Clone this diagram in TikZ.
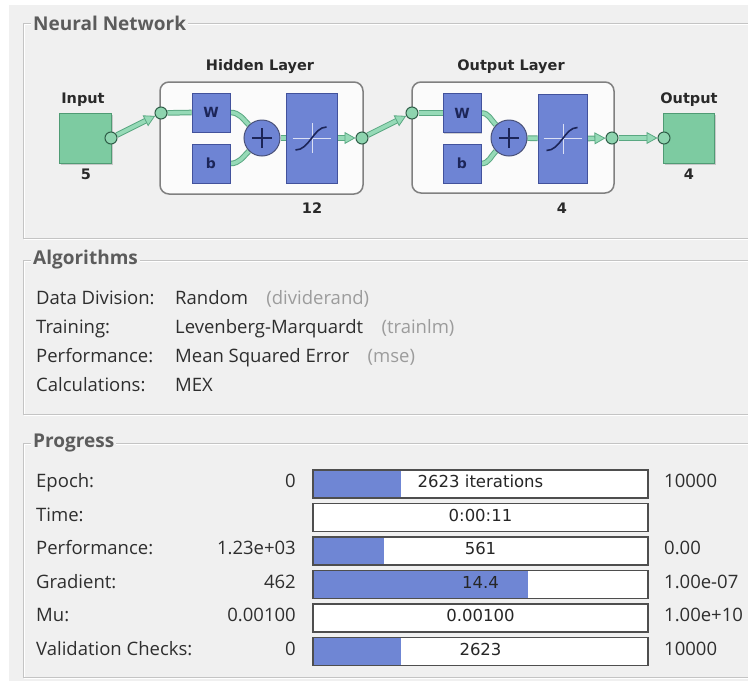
\documentclass[tikz,border=0pt]{standalone}
\usepackage{fontspec}
\setmainfont{Open Sans}
\newfontfamily\djv{DejaVu Sans}
\usetikzlibrary{arrows.meta,shadows,calc}
\definecolor{bgc}{HTML}{F0F0F0}
\definecolor{framec}{HTML}{C4C4C4}
\definecolor{titlec}{HTML}{5C5C5C}
\definecolor{textc}{HTML}{2E2E2E}
\definecolor{parenc}{HTML}{9C9C9C}
\definecolor{gfill}{HTML}{7DCBA1}
\definecolor{gedge}{HTML}{4F9B74}
\definecolor{conngreen}{HTML}{96DAB7}
\definecolor{connedge}{HTML}{5AA882}
\definecolor{circfill}{HTML}{8ED4AF}
\definecolor{circedge}{HTML}{2F5E48}
\definecolor{bfill}{HTML}{6E84D4}
\definecolor{bedge}{HTML}{42529C}
\definecolor{navy}{HTML}{1C2558}
\definecolor{barblue}{HTML}{6F86D4}
\definecolor{baredge}{HTML}{4E4E4E}
\definecolor{lboxedge}{HTML}{808080}
\pgfdeclarelayer{back}
\pgfdeclarelayer{mid}
\pgfsetlayers{back,mid,main}
\tikzset{
  frameline/.style={draw=framec, line width=0.9pt},
  ttl/.style={anchor=west, fill=bgc, inner xsep=2pt, inner ysep=0pt, text=titlec,
    font=\fontsize{19}{22}\selectfont\bfseries},
  txt/.style={anchor=west, inner sep=0pt, text height=0.72em, text depth=0pt, text=textc,
    font=\fontsize{18.5}{22}\selectfont},
  ptxt/.style={txt, text=parenc},
  rtxt/.style={txt, anchor=east},
  dlabel/.style={inner sep=0pt, text height=0.73em, text depth=0pt, text=textc!90!black,
    font=\djv\fontsize{14.5}{17}\selectfont\bfseries},
  lbox/.style={draw=lboxedge, line width=1.5pt, rounded corners=9pt, fill=white!97!gray},
  gblock/.style={draw=gedge, line width=0.9pt, fill=gfill,
    drop shadow={shadow xshift=1.5pt, shadow yshift=-1.5pt, opacity=0.35}},
  bblock/.style={draw=bedge, line width=0.9pt, fill=bfill,
    drop shadow={shadow xshift=1.2pt, shadow yshift=-1.2pt, opacity=0.35},
    text=navy, font=\djv\fontsize{14}{16}\selectfont\bfseries, inner sep=0pt},
  sumnode/.style={circle, draw=navy!80, line width=1pt, fill=bfill, minimum size=36pt, inner sep=0pt},
  circ/.style={circle, draw=circedge, line width=1pt, fill=circfill, minimum size=12pt, inner sep=0pt},
  conn/.style={draw=conngreen, line width=3.6pt, preaction={draw=connedge, line width=5.6pt}},
  conna/.style={draw=conngreen, line width=3.6pt,
    preaction={draw=connedge, line width=5.6pt, -, shorten >=9pt},
    -{Triangle[length=11pt,width=12pt,line width=0.8pt,color=connedge,fill=conngreen]}},
  barbox/.style={draw=baredge, line width=1.5pt, fill=white, minimum width=335pt, minimum height=28pt, inner sep=0pt},
  bartxt/.style={inner sep=0pt, text height=0.73em, text depth=0pt, text=black!85,
    font=\djv\fontsize{16.5}{19}\selectfont},
}
\begin{document}
\begin{tikzpicture}[x=1pt,y=-1pt]
\useasboundingbox (0,0) rectangle (748,681);
\clip (0,0) rectangle (748,681);
\begin{pgfonlayer}{back}
\fill[white] (0,0) rectangle (748,681);
\fill[bgc] (9,5) rectangle (748,681);
% frames
\foreach \ya/\yb in {23/238, 260/414, 443/677}{
  \draw[white, line width=0.9pt] (24,\ya+1) rectangle (800,\yb+1);
  \draw[frameline] (23,\ya) rectangle (800,\yb);
}
\node[lbox, minimum width=203pt, minimum height=112pt] (hbox) at (261.5,138) {};
\node[lbox, minimum width=202pt, minimum height=111pt] (obox) at (513,137.5) {};
\end{pgfonlayer}

% titles
\node[ttl] (t1) at (31,23) {Neural Network};
\node[ttl] (t2) at (31,260) {Algorithms};
\node[ttl] (t3) at (31,443) {Progress};

% ---------- network ----------
\node[gblock, minimum width=52pt, minimum height=50pt] (inp) at (85,138) {};
\node[gblock, minimum width=51pt, minimum height=50pt] (outp) at (688.5,138) {};
\node[dlabel] (linp) at (83,100) {Input};
\node[dlabel] (n5) at (86,176) {5};
\node[dlabel] (lout) at (689,100) {Output};
\node[dlabel] (n4b) at (689,176) {4};
\node[dlabel] (lh) at (260,67) {Hidden Layer};
\node[dlabel] (n12) at (312,210) {12};
\node[dlabel] (lo) at (511,67) {Output Layer};
\node[dlabel] (n4a) at (562,210) {4};

% hidden layer blocks
\node[bblock, minimum width=38pt, minimum height=39pt] (hW) at (211,112.5) {W};
\node[bblock, minimum width=38pt, minimum height=39pt] (hb) at (211,163.5) {b};
\node[sumnode] (hplus) at (262,138) {};
\node[bblock, minimum width=51pt, minimum height=90pt] (hT) at (311.5,138) {};
% output layer blocks
\node[bblock, minimum width=38pt, minimum height=39pt] (oW) at (462,113) {W};
\node[bblock, minimum width=38pt, minimum height=39pt] (ob) at (462,163.5) {b};
\node[sumnode] (oplus) at (509,138) {};
\node[bblock, minimum width=49pt, minimum height=89pt] (oT) at (562.5,138.5) {};

% plus signs and sigmoids
\foreach \p in {hplus,oplus}{
  \draw[navy, line width=2pt] ($(\p.center)+(-10,0)$) -- ($(\p.center)+(10,0)$);
  \draw[navy, line width=2pt] ($(\p.center)+(0,-10)$) -- ($(\p.center)+(0,10)$);
}
\foreach \t in {hT,oT}{
  \draw[white!75!bfill, line width=0.8pt] ($(\t.center)+(-19,0)$) -- ($(\t.center)+(19,0)$);
  \draw[white!75!bfill, line width=0.8pt] ($(\t.center)+(1,-15)$) -- ($(\t.center)+(1,15)$);
  \draw[navy, line width=1.6pt] ($(\t.center)+(-16,12)$) .. controls ($(\t.center)+(-2,12)$) and ($(\t.center)+(2,-11)$) .. ($(\t.center)+(15,-11)$);
}

% connector circles
\node[circ] (inout) at (111,138) {};
\node[circ] (hin) at (161,113) {};
\node[circ] (hout) at (362,138) {};
\node[circ] (oin) at (412,113) {};
\node[circ] (oout) at (612,138) {};
\node[circ] (outin) at (664,138) {};

\begin{pgfonlayer}{mid}
\draw[conna] (inout) -- (hin);
\draw[conn] (hin) -- (hW.west);
\draw[conn] (hW.east) to[out=0,in=135] (hplus);
\draw[conn] (hb.east) to[out=0,in=-135] (hplus);
\draw[conn] (hplus) -- (hT);
\draw[conna] (hT.east) -- (hout);
\draw[conna] (hout) -- (oin);
\draw[conn] (oin) -- (oW.west);
\draw[conn] (oW.east) to[out=0,in=135] (oplus);
\draw[conn] (ob.east) to[out=0,in=-135] (oplus);
\draw[conn] (oplus) -- (oT);
\draw[conna] (oT.east) -- (oout);
\draw[conna] (oout) -- (outin);
\end{pgfonlayer}

% ---------- algorithms ----------
\node[txt] (a1) at (36,301) {Data Division:};
\node[txt] (a2) at (36,330) {Training:};
\node[txt] (a3) at (36,359) {Performance:};
\node[txt] (a4) at (36,388) {Calculations:};
\node[txt] (v1) at (175,301) {Random};
\node[txt] (v2) at (175,330) {Levenberg-Marquardt};
\node[txt] (v3) at (175,359) {Mean Squared Error};
\node[txt] (v4) at (175,388) {MEX};
\node[ptxt] (p1) at ([xshift=18pt]v1.east) {(dividerand)};
\node[ptxt] (p2) at ([xshift=18pt]v2.east) {(trainlm)};
\node[ptxt] (p3) at ([xshift=18pt]v3.east) {(mse)};

% ---------- progress ----------
\foreach \i/\y/\lab/\val/\fw/\btxt/\rval in {
  1/484/Epoch:/0/89/2623 iterations/10000,
  2/517.5/Time://0/0:00:11/,
  3/551/Performance:/1.23e+03/72/561/0.00,
  4/584.5/Gradient:/462/216/14.4/1.00e-07,
  5/618/Mu:/0.00100/0/0.00100/1.00e+10,
  6/651.5/Validation Checks:/0/89/2623/10000}{
  \node[txt] (pl\i) at (36,\y) {\lab};
  \node[rtxt] (pv\i) at (296,\y) {\val};
  \node[barbox] (bar\i) at (480.5,\y) {};
  \ifdim\fw pt>0pt
    \fill[barblue] ([shift={(1.5,1.5)}]bar\i.north west) rectangle ([shift={(\fw,-1.5)}]bar\i.south west);
  \fi
  \node[bartxt] (bt\i) at (bar\i.center) {\btxt};
  \node[txt] (pr\i) at (664,\y) {\rval};
}
\end{tikzpicture}
\end{document}
